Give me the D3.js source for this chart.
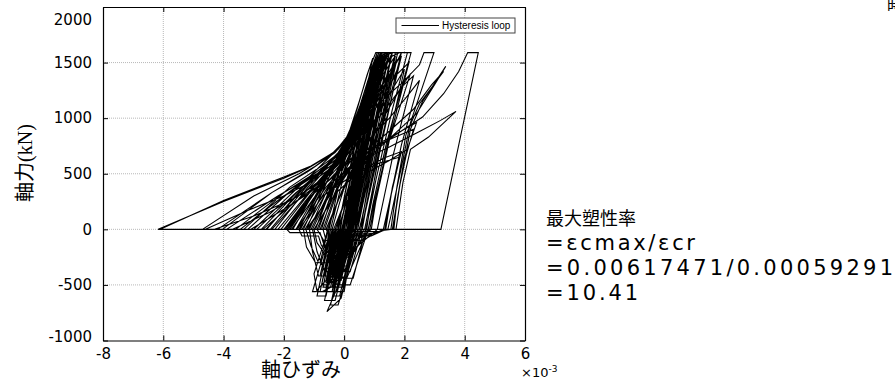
<!DOCTYPE html>
<html>
<head>
<meta charset="utf-8">
<script src="https://cdn.jsdelivr.net/npm/d3@7"></script>
<style>
  body { margin: 0; background: #fff; }
  svg { display: block; }
</style>
</head>
<body>
<svg id="chart" width="895" height="383"></svg>
<script>
// axis ticks
var xTicks = [-8, -6, -4, -2, 0, 2, 4, 6];
var yTicks = [-1000, -500, 0, 500, 1000, 1500, 2000];

// strain (x10^-3), axial force (kN)
var hysteresis = [
  [0,0],[0.1,200],[0.25,430],[0.4,650],[0.2,340],[-0.04,0],[-0.15,-150],[-0.26,-150],[-0.1,0],
  [-0.45,0],[-0.1,390],[0.15,610],[0.45,830],[0.72,1050],[0.35,540],[0.0,60],[-0.1,-90],[-0.32,-90],[-0.16,0],
  [-0.95,0],[-0.4,390],[-0.05,640],[0.3,860],[0.65,1120],[0.95,1380],[1.2,1590],[1.42,1590],[0.9,900],[0.35,180],[0.2,0],[0.0,-280],[-0.22,-280],[0.0,0],
  [-1.6,0],[-0.6,470],[-0.1,700],[0.25,880],[0.6,1130],[0.9,1400],[1.05,1500],[0.55,820],[0.1,200],[-0.05,0],[-0.35,-430],[-0.55,-430],[-0.3,-60],[-0.25,0],
  [-2.4,0],[-0.8,480],[-0.2,690],[0.2,860],[0.55,1080],[0.95,1380],[1.25,1560],[1.45,1590],[1.6,1590],[0.95,780],[0.5,180],[0.35,0],[0.0,-560],[-0.25,-560],[0.05,-30],[0.1,0],
  [-1.15,0],[-0.45,420],[0.0,650],[0.4,860],[0.8,1130],[1.15,1420],[1.35,1560],[0.8,820],[0.3,150],[0.15,0],[-0.05,-300],[-0.3,-300],[-0.1,0],
  [-3.0,0],[-1.2,460],[-0.3,700],[0.15,850],[0.6,1100],[1.0,1380],[1.4,1570],[1.62,1590],[1.78,1590],[1.1,840],[0.6,200],[0.45,0],[-0.1,-620],[-0.57,-740],[-0.25,-540],[0.0,-200],[0.2,0],
  [-4.2,0],[-2.4,330],[-1.0,560],[-0.2,720],[0.3,880],[0.8,1150],[1.3,1440],[1.6,1560],[1.85,1590],[2.22,1590],[1.4,770],[0.95,220],[0.8,0],[0.2,-500],[-0.15,-500],[0.1,-100],[0.25,0],
  [-1.9,0],[-0.7,430],[-0.05,660],[0.5,900],[1.0,1180],[1.5,1420],[1.9,1560],[1.2,760],[0.7,150],[0.55,0],[-0.2,-680],[-0.45,-680],[-0.1,-250],[0.05,0],
  [-0.7,0],[-0.25,350],[0.1,600],[0.6,870],[1.1,1120],[1.7,1380],[2.15,1500],[1.4,700],[0.9,120],[0.8,0],[0.1,-430],[-0.2,-430],[0.0,-120],[0.1,0],
  [-2.6,0],[-1.0,470],[-0.2,690],[0.4,880],[1.2,1140],[2.0,1340],[2.5,1480],[2.65,1590],[2.98,1590],[2.2,960],[1.9,560],[1.55,120],[1.45,0],[1.0,-35],[0.35,-35],[0.3,0],
  [-1.4,0],[-0.5,400],[0.4,600],[1.5,740],[2.5,880],[3.2,980],[3.71,1061],[2.8,830],[2.2,720],[1.95,420],[1.72,0],
  [-0.3,0],[0.2,380],[0.8,640],[1.6,840],[2.4,1040],[3.0,1300],[3.37,1466],[2.6,1150],[2.2,900],[1.85,400],[1.62,0],
  [-0.8,0],[-0.2,400],[0.5,660],[1.4,860],[2.3,1080],[2.9,1300],[3.3,1420],[2.5,1130],[2.05,850],[1.75,380],[1.55,0],
  [-1.3,0],[-0.4,420],[0.5,640],[1.6,830],[2.6,1010],[3.3,1220],[3.8,1420],[4.1,1590],[4.45,1590],[3.21,0],
  [-6.17,0],[-4.0,250],[-2.0,460],[-1.0,580],[-0.2,720],[0.3,900],[0.7,1180],[1.0,1430],[1.2,1590],[1.38,1590],[0.75,760],[0.25,90],[0.18,0],[-0.2,-520],[-0.45,-520],[-0.15,-80],[-0.1,0],
  [-6.1,0],[-4.0,260],[-2.0,470],[-1.1,570],[-0.3,700],[0.2,870],[0.6,1120],[1.0,1400],[1.3,1560],[0.7,780],[0.2,120],[0.1,0],[-0.3,-480],[-0.6,-480],[-0.3,-100],[-0.2,0],
  [-4.7,0],[-3.0,300],[-1.5,500],[-0.4,680],[0.1,820],[0.55,1050],[0.95,1330],[1.25,1520],[0.65,730],[0.15,80],[0.1,0],[-0.35,-400],[-0.55,-400],[-0.2,0],
  [-4.04,0],[-2.4,330],[-1.2,520],[-0.3,690],[0.2,850],[0.7,1100],[1.1,1360],[1.45,1590],[1.58,1590],[1.0,880],[0.45,180],[0.35,0],[-0.05,-380],[-0.35,-380],[-0.15,-60],[-0.05,0],
  [-3.33,0],[-1.8,380],[-0.8,560],[-0.1,700],[0.4,880],[0.9,1150],[1.3,1400],[1.7,1560],[1.05,760],[0.55,150],[0.4,0],[-0.05,-520],[-0.4,-520],[-0.1,-150],[0.0,0],
  [-2.57,0],[-1.3,400],[-0.5,600],[0.1,740],[0.6,950],[1.1,1200],[1.5,1420],[0.95,700],[0.5,120],[0.38,0],[-0.15,-600],[-0.35,-600],[-0.05,-180],[0.05,0],
  [-2.2,0],[-0.9,420],[-0.25,620],[0.3,800],[0.8,1020],[1.3,1280],[1.65,1460],[1.05,700],[0.6,110],[0.5,0],[0.1,-330],[-0.25,-330],[-0.05,-60],[0.0,0],
  [-1.75,0],[-0.8,360],[-0.1,560],[0.8,720],[1.6,820],[2.3,900],[1.95,560],[1.7,160],[1.6,0],
  [-1.0,0],[-0.3,320],[0.5,520],[1.3,640],[1.9,700],[1.6,380],[1.38,0],[0.9,-60],[0.2,-60],[0.1,0],
  [-1.5,0],[-0.7,300],[0.2,470],[1.1,590],[1.85,650],[1.55,300],[1.3,0],[0.6,-100],[-0.6,-100],[-0.7,0],
  [-2.0,0],[-1.1,300],[-0.2,510],[0.3,700],[0.7,960],[1.05,1240],[1.35,1400],[0.85,640],[0.45,80],[0.4,0],[-0.3,-300],[-0.85,-300],[-1.1,-150],[-1.27,0],
  [-3.6,0],[-2.0,330],[-1.0,500],[-0.3,640],[0.2,800],[0.65,1050],[1.0,1300],[1.25,1460],[0.7,720],[0.3,150],[0.2,0],[-0.1,-240],[-0.5,-240],[-0.7,-90],[-0.9,0],
  [-2.9,0],[-1.6,330],[-0.7,520],[0.0,660],[0.5,850],[0.95,1100],[1.35,1350],[1.75,1530],[1.15,780],[0.7,170],[0.6,0],[0.0,-380],[-0.65,-380],[-0.9,-200],[-1.05,0],
  [-1.25,0],[-0.6,250],[-0.1,480],[0.3,650],[0.7,880],[1.0,1060],[0.5,400],[0.25,0],[-0.2,-150],[-0.75,-150],[-0.85,-60],[-1.4,-60],[-1.5,0],
  [-0.6,0],[-0.2,260],[0.2,480],[0.55,680],[0.9,900],[0.45,330],[0.22,0],[-0.15,-200],[-0.6,-200],[-0.8,-30],[-1.8,-30],[-1.9,0],
  [-3.9,0],[-2.2,300],[-1.1,470],[-0.5,560],[0.0,640],[0.6,820],[1.1,1020],[1.6,1260],[2.0,1440],[1.4,720],[0.95,130],[0.85,0],[0.2,-250],[-0.4,-250],[-0.2,0],
  [-1.2,0],[-0.3,380],[0.3,600],[0.9,820],[1.4,1050],[1.9,1280],[2.3,1380],[1.6,640],[1.2,130],[1.1,0],[0.4,-160],[-0.3,-160],[-0.2,0],
  [-0.5,0],[-0.25,300],[-0.05,560],[0.2,760],[0.5,1000],[0.8,1250],[1.0,1420],[0.45,700],[0.0,100],[-0.08,0],[-0.4,-460],[-0.6,-460],[-0.35,-120],[-0.3,0],
  [-1.7,0],[-0.9,380],[-0.4,580],[0.0,720],[0.35,920],[0.7,1180],[1.0,1440],[1.15,1590],[1.3,1590],[0.7,790],[0.2,120],[0.1,0],[-0.25,-470],[-0.5,-470],[-0.2,-60],[-0.15,0],
  [-2.3,0],[-1.2,380],[-0.5,590],[-0.1,700],[0.25,880],[0.6,1120],[0.9,1380],[1.2,1560],[0.65,800],[0.15,150],[0.05,0],[-0.4,-560],[-0.62,-560],[-0.3,-140],[-0.2,0],
  [-0.85,0],[-0.45,300],[-0.15,540],[0.15,740],[0.45,960],[0.75,1200],[0.35,660],[-0.05,120],[-0.12,0],[-0.45,-350],[-0.7,-350],[-0.45,-60],[-0.4,0],
  [-1.45,0],[-0.75,350],[-0.3,560],[0.05,720],[0.4,930],[0.75,1190],[1.05,1450],[1.25,1590],[1.5,1590],[0.95,880],[0.45,240],[0.25,0],[-0.15,-480],[-0.72,-560],[-0.8,-560],[-0.45,-150],[-0.35,0],
  [-3.2,0],[-1.8,340],[-0.9,520],[-0.3,640],[0.1,780],[0.5,980],[0.9,1230],[1.3,1480],[1.5,1590],[1.7,1590],[1.15,960],[0.6,310],[0.35,0],[0.05,-360],[-0.35,-360],[-0.1,-40],[-0.05,0],
  [-2.75,0],[-1.4,380],[-0.6,560],[0.0,690],[0.5,830],[1.2,1020],[1.8,1240],[2.2,1400],[1.5,800],[1.05,250],[0.9,0],[0.45,-90],[-0.25,-90],[-0.3,0],
  [-1.05,0],[-0.3,420],[0.4,620],[1.2,780],[2.0,900],[2.4,960],[2.0,640],[1.75,250],[1.65,0],
  [-0.35,0],[0.1,300],[0.7,500],[1.5,620],[2.1,720],[1.85,400],[1.6,0],[1.0,-20],[0.0,-20],[-0.1,0],
  [-2.1,0],[-1.0,380],[-0.35,580],[0.05,700],[0.4,850],[0.9,1050],[1.35,1280],[1.7,1480],[1.9,1590],[2.1,1590],[1.6,1080],[1.05,440],[0.8,100],[0.72,0],[0.3,-440],[-0.2,-440],[0.05,-100],[0.1,0],
  [-1.85,0],[-0.9,360],[-0.3,560],[0.1,690],[0.45,860],[0.85,1100],[1.2,1360],[1.45,1520],[0.85,720],[0.4,120],[0.3,0],[-0.3,-640],[-0.65,-640],[-0.3,-200],[-0.2,0],
  [-0.9,0],[-0.3,380],[0.05,600],[0.4,820],[0.8,1080],[1.1,1320],[0.6,640],[0.15,60],[0.1,0],[-0.4,-400],[-0.95,-560],[-1.05,-560],[-0.55,-100],[-0.5,0],
  [-2.45,0],[-1.2,400],[-0.5,600],[0.0,730],[0.4,920],[0.8,1180],[1.15,1450],[1.3,1590],[1.5,1590],[0.95,840],[0.5,260],[0.3,0],[-0.2,-300],[-0.95,-300],[-1.25,-160],[-1.35,0],
  [-0.55,0],[-0.1,330],[0.3,560],[0.7,780],[1.1,1020],[1.5,1280],[1.8,1460],[1.2,720],[0.8,160],[0.68,0],[0.1,-240],[-0.6,-240],[-0.9,-120],[-1.0,0],
  [-1.6,0],[-0.6,380],[0.1,600],[0.8,800],[1.5,1000],[2.1,1200],[2.5,1340],[1.9,760],[1.5,240],[1.35,0],[0.8,-50],[-0.5,-50],[-0.6,0],
  [-3.45,0],[-2.0,300],[-1.0,480],[-0.4,600],[0.0,690],[0.35,840],[0.75,1080],[1.1,1330],[1.35,1500],[0.8,760],[0.35,140],[0.25,0],[-0.2,-420],[-0.85,-420],[-1.05,-200],[-1.15,0],
  [-1.55,0],[-1.0,250],[-0.55,480],[-0.2,650],[0.15,850],[0.45,1100],[0.75,1380],[0.95,1540],[0.4,800],[-0.1,150],[-0.2,0],[-0.55,-420],[-0.8,-420],[-0.5,-60],[-0.45,0],
  [-1.35,0],[-0.85,300],[-0.45,540],[-0.15,690],[0.2,900],[0.5,1150],[0.8,1420],[1.05,1590],[1.22,1590],[0.6,800],[0.05,100],[-0.03,0],[-0.35,-380],[-0.6,-380],[-0.3,0],
  [-0.75,0],[-0.45,260],[-0.2,480],[0.1,680],[0.4,900],[0.65,1120],[0.9,1350],[0.4,700],[-0.05,120],[-0.13,0],[-0.5,-500],[-0.75,-500],[-0.45,-100],[-0.38,0],
  [-1.95,0],[-1.2,260],[-0.6,470],[-0.25,620],[0.05,760],[0.35,960],[0.65,1220],[0.95,1480],[1.1,1590],[1.25,1590],[0.7,900],[0.2,240],[0.05,0],[-0.3,-450],[-0.52,-450],[-0.25,-80],[-0.2,0],
  [-1.1,0],[-0.6,280],[-0.3,480],[0.0,640],[0.3,840],[0.6,1060],[0.9,1300],[1.15,1500],[0.6,760],[0.1,120],[0.0,0],[-0.25,-330],[-0.5,-330],[-0.25,0],
  [-0.25,0],[0.0,250],[0.25,480],[0.5,700],[0.8,950],[1.05,1180],[0.6,600],[0.25,80],[0.2,0],[-0.1,-280],[-0.35,-280],[-0.15,-40],[-0.1,0],
  [-2.7,0],[-1.7,230],[-0.9,400],[-0.35,560],[0.0,700],[0.3,870],[0.6,1100],[0.85,1350],[1.05,1530],[0.55,880],[0.0,170],[-0.15,0],[-0.6,-600],[-0.9,-600],[-0.55,-160],[-0.45,0],
  [-4.3,0],[-3.0,120],[-1.8,260],[-0.8,420],[-0.2,580],[0.2,760],[0.55,980],[0.85,1230],[1.1,1450],[0.55,720],[0.05,80],[-0.02,0],[-0.4,-380],[-0.65,-380],[-0.35,-40],[-0.3,0],
  [-3.7,0],[-2.5,150],[-1.4,320],[-0.6,480],[-0.1,640],[0.25,820],[0.6,1060],[0.9,1320],[1.1,1480],[0.55,760],[0.05,100],[-0.05,0],[-0.45,-520],[-0.7,-520],[-0.4,-120],[-0.3,0],
  [-1.25,0],[-0.7,350],[-0.35,560],[0.0,730],[0.35,950],[0.7,1220],[0.95,1440],[1.15,1590],[1.35,1590],[0.8,880],[0.3,220],[0.12,0],[-0.2,-420],[-0.45,-420],[-0.2,-60],[-0.15,0],
  [-0.95,0],[-0.55,300],[-0.25,520],[0.05,700],[0.35,900],[0.6,1100],[0.2,560],[-0.15,80],[-0.2,0],[-0.55,-300],[-0.8,-300],[-0.55,-30],[-0.5,0],
  [-1.8,0],[-1.0,320],[-0.5,520],[-0.15,680],[0.2,880],[0.55,1130],[0.85,1380],[1.1,1560],[0.55,830],[0.05,170],[-0.05,0],[-0.35,-560],[-0.9,-560],[-1.0,-400],[-0.6,-60],[-0.55,0],
  [-0.4,0],[-0.15,240],[0.1,460],[0.35,680],[0.7,950],[1.0,1250],[1.25,1450],[0.7,720],[0.3,180],[0.15,0],[-0.15,-350],[-0.4,-350],[-0.2,-30],[-0.15,0],
  [-2.0,0],[-1.3,250],[-0.7,450],[-0.3,600],[0.1,760],[0.5,960],[0.95,1220],[1.4,1480],[1.6,1590],[1.9,1590],[1.3,950],[0.8,300],[0.6,0],[0.2,-380],[-0.1,-380],[0.05,-60],[0.1,0],
  [-0.65,0],[-0.35,240],[-0.1,460],[0.2,680],[0.5,900],[0.8,1150],[1.05,1360],[0.5,680],[0.05,120],[-0.05,0],[-0.4,-420],[-0.65,-420],[-0.35,-80],[-0.3,0],
  [-1.5,0],[-0.9,320],[-0.45,520],[-0.1,670],[0.25,860],[0.6,1090],[0.95,1340],[1.2,1520],[0.65,790],[0.15,140],[0.05,0],[-0.3,-260],[-0.55,-260],[-0.3,0],
  [-1.0,0],[-0.55,200],[-0.1,420],[0.4,620],[0.9,820],[1.4,1000],[1.1,600],[0.85,200],[0.75,0],[0.35,-200],[0.05,-200],[0.1,0],
  [-0.2,0],[0.05,220],[0.35,420],[0.7,620],[1.1,860],[0.8,420],[0.55,0],[0.25,-250],[-0.05,-250],[0.0,0],
  [-4.6,0],[-3.2,170],[-2.0,300],[-1.0,440],[-0.4,560],[0.0,680],[0.35,880],[0.7,1130],[1.0,1400],[1.2,1560],[0.65,780],[0.15,120],[0.05,0],[-0.25,-300],[-0.5,-300],[-0.3,0],
  [-3.1,0],[-2.0,180],[-1.2,320],[-0.5,470],[0.0,620],[0.4,810],[0.8,1060],[1.15,1320],[1.45,1540],[0.9,820],[0.4,170],[0.28,0],[-0.1,-460],[-0.35,-460],[-0.1,-80],[0.0,0],[-0.5,0]
];

var legendLabels = ["Hysteresis loop"];
var noteLines = ["最大塑性率", "=εcmax/εcr", "=0.00617471/0.00059291", "=10.41"];

var svg = d3.select("#chart");

var plotLeft = 103, plotRight = 525, plotTop = 7, plotBottom = 340.5;

var x = d3.scaleLinear().domain([-8, 6]).range([plotLeft, plotRight]);
var y = d3.scaleLinear().domain([-1000, 2000]).range([plotBottom, plotTop]);

// grid
var grid = svg.append("g").attr("class", "grid");
grid.selectAll(".gx")
    .data(xTicks.slice(1, -1))
    .enter().append("line")
    .attr("x1", function(d) { return x(d); })
    .attr("x2", function(d) { return x(d); })
    .attr("y1", plotTop).attr("y2", plotBottom)
    .attr("stroke", "#b8b8b8")
    .attr("stroke-dasharray", "1,1");
grid.selectAll(".gy")
    .data(yTicks.slice(1, -1))
    .enter().append("line")
    .attr("y1", function(d) { return y(d); })
    .attr("y2", function(d) { return y(d); })
    .attr("x1", plotLeft).attr("x2", plotRight)
    .attr("stroke", "#b8b8b8")
    .attr("stroke-dasharray", "1,1");

// the loop
var line = d3.line()
    .x(function(d) { return x(d[0]); })
    .y(function(d) { return y(d[1]); });

svg.append("path")
   .datum(hysteresis)
   .attr("d", line)
   .attr("fill", "none")
   .attr("stroke", "#000")
   .attr("stroke-width", 1.1)
   .attr("stroke-linejoin", "miter");

// axes (ticks inside)
var fontTick = "'DejaVu Sans', Verdana, sans-serif";
var minus = function(d) { return d < 0 ? "-" + Math.abs(d) : d; };

var xAxis = svg.append("g")
    .attr("transform", "translate(0," + plotBottom + ")")
    .call(d3.axisBottom(x).tickValues(xTicks).tickSizeInner(-5).tickSizeOuter(0).tickPadding(8).tickFormat(minus));
var xAxisTop = svg.append("g")
    .attr("transform", "translate(0," + plotTop + ")")
    .call(d3.axisTop(x).tickValues(xTicks).tickSizeInner(-5).tickSizeOuter(0).tickFormat(""));
var yAxis = svg.append("g")
    .attr("transform", "translate(" + plotLeft + ",0)")
    .call(d3.axisLeft(y).tickValues(yTicks).tickSizeInner(-5).tickSizeOuter(0).tickPadding(11).tickFormat(minus));
var yAxisRight = svg.append("g")
    .attr("transform", "translate(" + plotRight + ",0)")
    .call(d3.axisRight(y).tickValues(yTicks).tickSizeInner(-5).tickSizeOuter(0).tickFormat(""));

[xAxis, xAxisTop, yAxis, yAxisRight].forEach(function(a) {
    a.select(".domain").attr("stroke", "#000").attr("stroke-width", 1.2);
    a.selectAll(".tick line").attr("stroke", "#000");
    a.selectAll(".tick text")
     .attr("fill", "#000")
     .style("font-family", fontTick)
     .style("font-size", "15px");
});
// end labels are nudged inside the frame, like the original
yAxis.selectAll(".tick text")
     .attr("y", function(d) { return d == 2000 ? 13 : (d == -1000 ? -4 : 0); });

// legend
var legend = svg.append("g").attr("transform", "translate(396,18)");
legend.append("rect")
      .attr("width", 119).attr("height", 15)
      .attr("fill", "#fff")
      .attr("stroke", "#444").attr("stroke-width", 1);
legend.append("line")
      .attr("x1", 5.5).attr("x2", 43).attr("y1", 7.5).attr("y2", 7.5)
      .attr("stroke", "#000");
legend.selectAll("text")
      .data(legendLabels)
      .enter().append("text")
      .attr("x", 46).attr("y", 11)
      .style("font-family", "'Liberation Sans', Arial, sans-serif")
      .style("font-size", "10px")
      .text(function(d) { return d; });

// axis titles
var jp = "'Noto Sans CJK JP', sans-serif";
svg.append("text")
   .attr("x", 301).attr("y", 377)
   .attr("text-anchor", "middle")
   .style("font-family", jp)
   .style("font-size", "20px")
   .text("軸ひずみ");

var yTitle = svg.append("text")
   .attr("transform", "translate(32,163) rotate(-90)")
   .attr("text-anchor", "middle")
   .style("font-size", "20px");
yTitle.append("tspan").style("font-family", jp).text("軸力");
yTitle.append("tspan").style("font-family", "'Liberation Serif', serif").text("(kN)");

var mult = svg.append("text")
   .attr("x", 521).attr("y", 377)
   .style("font-family", fontTick)
   .style("font-size", "13px")
   .text("×10");
mult.append("tspan").attr("dy", -5).style("font-size", "9px").text("-3");

// ductility note
svg.append("g").selectAll("text")
   .data(noteLines)
   .enter().append("text")
   .attr("x", 546)
   .attr("y", function(d, i) { return 225 + i * 25; })
   .attr("textLength", function(d, i) { return i == 0 ? null : [0, 149, 347, 92][i]; })
   .attr("lengthAdjust", "spacing")
   .style("font-family", function(d, i) { return i == 0 ? jp : fontTick; })
   .style("font-size", function(d, i) { return i == 0 ? "18px" : "21px"; })
   .text(function(d) { return d; });

// clipped caption at top right edge
svg.append("text")
   .attr("x", 887).attr("y", 11)
   .style("font-family", jp)
   .style("font-size", "16px")
   .text("時");
</script>
</body>
</html>
